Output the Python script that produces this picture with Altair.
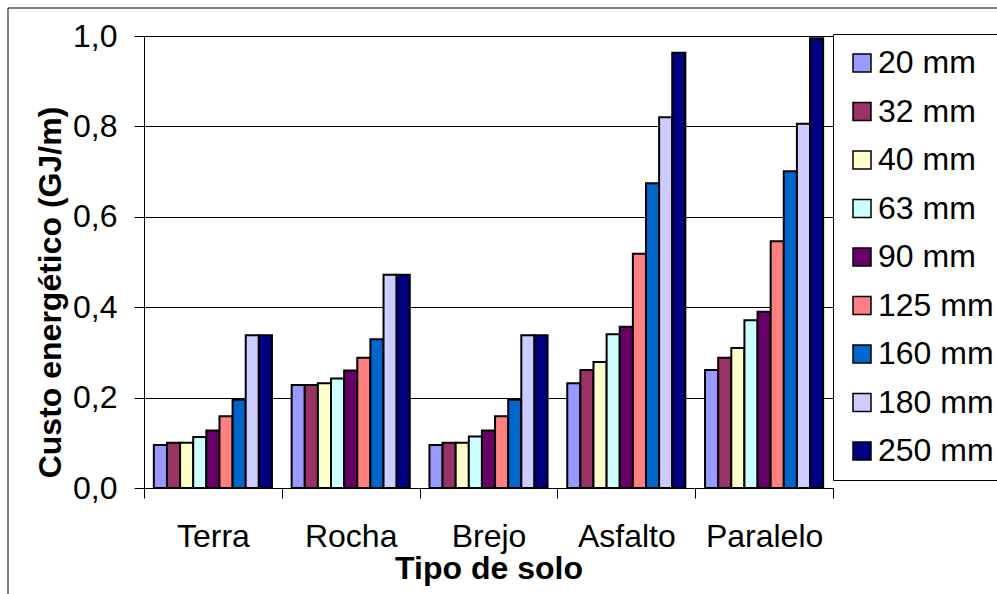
import altair as alt
import pandas as pd

# Soil types on the category axis
soils = ["Terra", "Rocha", "Brejo", "Asfalto", "Paralelo"]

# Pipe diameters (series)
diameters = ["20 mm", "32 mm", "40 mm", "63 mm", "90 mm",
             "125 mm", "160 mm", "180 mm", "250 mm"]
colors = ["#9999FF", "#993366", "#FFFFCC", "#CCFFFF", "#660066",
          "#FF8080", "#0066CC", "#CCCCFF", "#000080"]

# Energy cost (GJ/m) per soil type, one value per diameter
terra = [0.095, 0.100, 0.100, 0.113, 0.127, 0.159, 0.195, 0.338, 0.338]
rocha = [0.228, 0.228, 0.232, 0.242, 0.260, 0.288, 0.329, 0.472, 0.472]
brejo = [0.095, 0.100, 0.100, 0.114, 0.127, 0.159, 0.195, 0.338, 0.338]
asfalto = [0.232, 0.261, 0.279, 0.340, 0.357, 0.518, 0.674, 0.820, 0.963]
paralelo = [0.261, 0.288, 0.310, 0.371, 0.390, 0.546, 0.701, 0.806, 0.995]

y_ticks = [0.0, 0.2, 0.4, 0.6, 0.8, 1.0]

series = {"Terra": terra, "Rocha": rocha, "Brejo": brejo,
          "Asfalto": asfalto, "Paralelo": paralelo}
rows = []
for soil in soils:
    for d, v in zip(diameters, series[soil]):
        rows.append({"solo": soil, "diametro": d, "custo": v})
df = pd.DataFrame(rows)

FONT = "Liberation Sans"

bars = alt.Chart(df).mark_bar(stroke="black", strokeWidth=2, opacity=1).encode(
    x=alt.X(
        "solo:N", sort=soils,
        scale=alt.Scale(paddingInner=0, paddingOuter=0),
        axis=alt.Axis(
            title="Tipo de solo", labelAngle=0, tickBand="extent",
            domainColor="black", tickColor="black", tickSize=10,
            labelFont=FONT, labelFontSize=32, labelColor="black",
            labelBaseline="alphabetic", labelPadding=48,
            titleFont=FONT, titleFontSize=32, titleFontWeight="bold",
            titleColor="black", titleBaseline="alphabetic", titleY=90,
        ),
    ),
    xOffset=alt.XOffset(
        "diametro:N", sort=diameters,
        scale=alt.Scale(paddingInner=0, paddingOuter=0.75),
    ),
    y=alt.Y(
        "custo:Q",
        scale=alt.Scale(domain=[0, 1], nice=False),
        axis=alt.Axis(
            title="Custo energético (GJ/m)", values=y_ticks,
            labelExpr="replace(format(datum.value, '.1f'), '.', ',')",
            domainColor="black", tickColor="black", tickSize=10,
            grid=True, gridColor="black", gridWidth=1,
            labelFont=FONT, labelFontSize=32, labelColor="black",
            labelPadding=17,
            titleFont=FONT, titleFontSize=32, titleFontWeight="bold",
            titleColor="black", titleAngle=-90, titleBaseline="alphabetic",
            titleAlign="center", titleX=-84, titleY=256,
        ),
    ),
    color=alt.Color(
        "diametro:N", sort=diameters,
        scale=alt.Scale(domain=diameters, range=colors),
        legend=alt.Legend(
            title=None, orient="none", legendX=689, legendY=-2,
            strokeColor="black", fillColor="white", padding=13,
            symbolType="square", symbolSize=324,
            symbolStrokeColor="black", symbolStrokeWidth=1.5,
            symbolOpacity=1,
            labelFont=FONT, labelFontSize=32, labelColor="black",
            labelOffset=0, rowPadding=16.5, labelLimit=0,
        ),
    ),
)

# Outer chart frame (left and top edges)
frame_src = pd.DataFrame({"k": [0]})
frame_left = alt.Chart(frame_src).mark_rule(color="black", strokeWidth=1).encode(
    x=alt.value(-136), y=alt.value(-28), y2=alt.value(570)
)
frame_top = alt.Chart(frame_src).mark_rule(color="black", strokeWidth=1).encode(
    x=alt.value(-136), x2=alt.value(900), y=alt.value(-28)
)

chart = alt.layer(bars, frame_left, frame_top).properties(
    width=689, height=452,
    autosize=alt.AutoSizeParams(type="none"),
    padding={"left": 144, "top": 36, "right": 164, "bottom": 106},
    background="white",
).configure_view(stroke=None)

chart.save("out.html", embed_options={"renderer": "svg", "actions": False})
